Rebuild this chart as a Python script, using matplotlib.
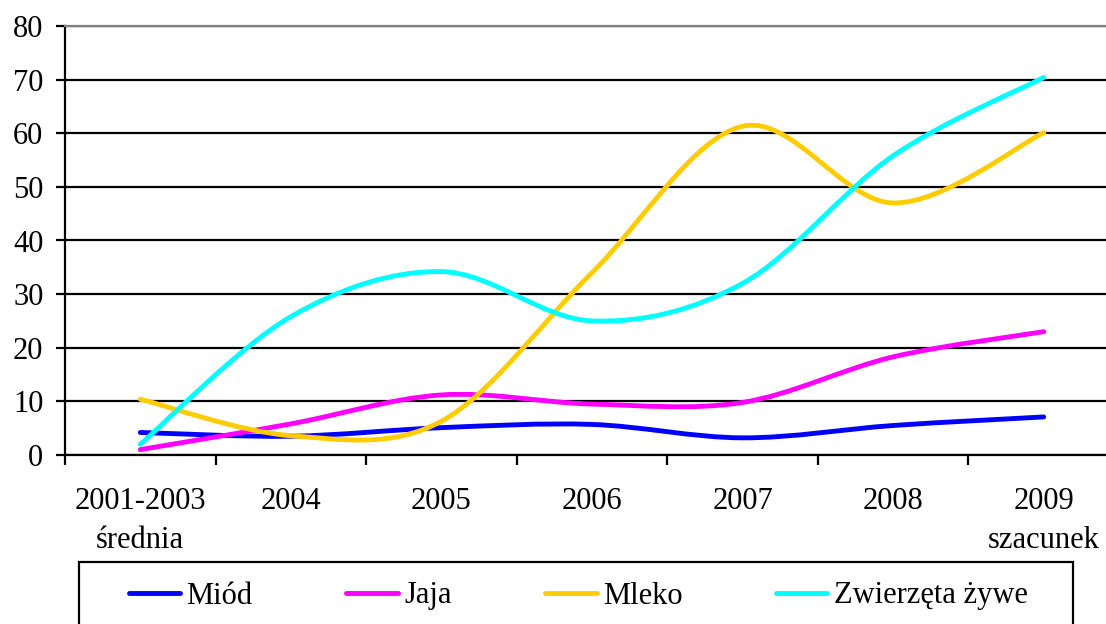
import numpy as np
import matplotlib
matplotlib.use('Agg')
from matplotlib import pyplot as plt
from matplotlib.path import Path
from matplotlib.patches import PathPatch, Rectangle
from matplotlib.lines import Line2D

plt.rcParams['font.family'] = ['Liberation Serif', 'DejaVu Serif']

#Data
categories = ['2001-2003\nśrednia', '2004', '2005', '2006', '2007', '2008', '2009\nszacunek']
miod = [4.2, 3.5, 5.1, 5.7, 3.2, 5.5, 7.1]
jaja = [1.0, 5.8, 11.2, 9.5, 9.8, 18.3, 23.0]
mleko = [10.4, 3.6, 6.3, 34.0, 61.3, 47.0, 60.1]
zwierzeta = [2.0, 25.8, 34.2, 25.0, 32.0, 55.8, 70.4]

series = [('Miód', miod, '#0000FF'),
          ('Jaja', jaja, '#FF00FF'),
          ('Mleko', mleko, '#FFCC00'),
          ('Zwierzęta żywe', zwierzeta, '#00FFFF')]

FS = 22

def smooth_path(xs, ys):
    #Excel-like smoothed line: Catmull-Rom as cubic bezier segments
    pts = np.column_stack([xs, ys]).astype(float)
    n = len(pts)
    verts = [pts[0]]
    codes = [Path.MOVETO]
    for i in range(n - 1):
        p0 = pts[i - 1] if i > 0 else pts[i]
        p1 = pts[i]
        p2 = pts[i + 1]
        p3 = pts[i + 2] if i + 2 < n else pts[i + 1]
        c1 = p1 + (p2 - p0) / 6.0
        c2 = p2 - (p3 - p1) / 6.0
        verts += [c1, c2, p2]
        codes += [Path.CURVE4] * 3
    return Path(verts, codes)

W, H = 1106, 624
fig = plt.figure(figsize=(W / 100, H / 100), dpi=100)
ax = fig.add_axes([65 / W, (H - 455) / H, (1119 - 65) / W, (455 - 26) / H])

x = np.arange(len(categories))
for name, vals, col in series:
    patch = PathPatch(smooth_path(x, vals), facecolor='none', edgecolor=col,
                      lw=3.5, capstyle='round', joinstyle='round', zorder=3)
    ax.add_patch(patch)

ax.set_xlim(-0.5, len(categories) - 0.5)
ax.set_ylim(0, 80)

#gridlines
ax.set_yticks(np.arange(0, 81, 10))
ax.yaxis.grid(True, color='black', lw=1.6)
ax.set_axisbelow(True)

#x ticks at category boundaries, labels at centres
ax.set_xticks(np.arange(-0.5, len(categories), 1))
ax.set_xticklabels([])
ax.set_xticks(x, minor=True)
ax.set_xticklabels(categories, minor=True, fontsize=FS, linespacing=1.45)
ax.tick_params(axis='x', which='major', direction='out', length=7, width=1.6, color='black')
ax.tick_params(axis='x', which='minor', length=0, pad=23)
ax.tick_params(axis='y', direction='out', length=6.5, width=1.6, pad=9, labelsize=FS)

for s in ['left', 'bottom']:
    ax.spines[s].set_color('black')
    ax.spines[s].set_linewidth(1.6)
ax.spines['top'].set_color('#808080')
ax.spines['top'].set_linewidth(1.6)
ax.spines['right'].set_visible(False)

#legend box
fig.patches.append(Rectangle((79 / W, -0.1), (1073 - 79) / W, 0.1 + (H - 562) / H,
                             transform=fig.transFigure, facecolor='white',
                             edgecolor='black', lw=1.6))
handles = [Line2D([], [], color=c, lw=3.5, solid_capstyle='round') for _, _, c in series]
fig.legend(handles, [s[0] for s in series], loc='center', ncol=4, frameon=False,
           bbox_to_anchor=(578 / W, (H - 596) / H), fontsize=FS,
           handlelength=1.7, handletextpad=0.2, columnspacing=3.05)

fig.savefig('out.png', dpi=100)
